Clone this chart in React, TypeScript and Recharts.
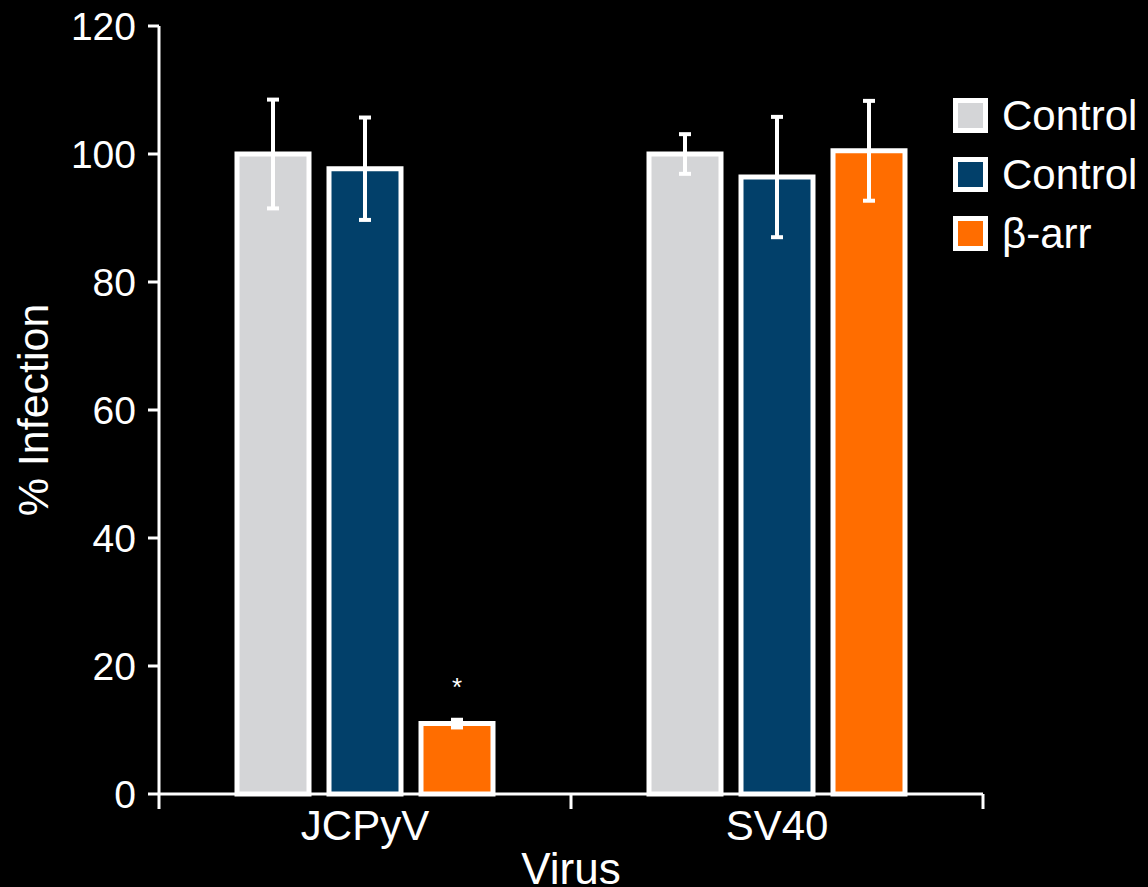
import { BarChart, Bar, XAxis, YAxis, ErrorBar, Legend, LabelList } from "recharts";

const categories = ["JCPyV", "SV40"];
const controlA = [100, 100];
const controlAErr = [8.5, 3.1];
const controlB = [97.7, 96.4];
const controlBErr = [8, 9.4];
const betaArr = [11, 100.5];
const betaArrErr = [0.6, 7.8];
const significance = ["*", ""];
const yTicks = [0, 20, 40, 60, 80, 100, 120];

const FONT = '"Liberation Sans", Arial, sans-serif';
const WHITE = "#ffffff";

const W = 1148;
const H = 887;
const Y_AXIS_W = 159;
const RIGHT = 165;
const BAND = (W - Y_AXIS_W - RIGHT) / categories.length;

const data = categories.map((virus, i) => ({
  virus,
  controlA: controlA[i],
  controlAErr: controlAErr[i],
  controlB: controlB[i],
  controlBErr: controlBErr[i],
  betaArr: betaArr[i],
  betaArrErr: betaArrErr[i],
  sig: significance[i],
}));

// label in the middle, tick marks on the category boundaries
function CategoryTick(props: any) {
  const { x, y, payload, index } = props;
  const half = BAND / 2;
  const isLast = index === categories.length - 1;
  return (
    <g>
      <line x1={x - half} x2={x - half} y1={y - 15} y2={y} stroke={WHITE} strokeWidth={3} />
      {isLast && <line x1={x + half} x2={x + half} y1={y - 15} y2={y} stroke={WHITE} strokeWidth={3} />}
      <text x={x} y={y} dy={31} textAnchor="middle" fill={WHITE} fontSize={42} fontFamily={FONT}>
        {payload.value}
      </text>
    </g>
  );
}

function LegendContent(props: any) {
  const { payload } = props;
  return (
    <div style={{ fontFamily: FONT }}>
      {(payload || []).map((item: any, i: number) => (
        <div key={i} style={{ display: "flex", alignItems: "center", height: 59 }}>
          <div
            style={{
              width: 35,
              height: 35,
              boxSizing: "border-box",
              border: "5px solid #fff",
              background: item.color,
            }}
          />
          <span style={{ color: WHITE, fontSize: 42, marginLeft: 14, lineHeight: 1 }}>{item.value}</span>
        </div>
      ))}
    </div>
  );
}

export default function App() {
  return (
    <div style={{ position: "absolute", top: 0, left: 0, width: W, height: H, background: "#000" }}>
      <BarChart
        width={W}
        height={H}
        data={data}
        margin={{ top: 26, right: RIGHT, left: 0, bottom: 0 }}
        barSize={72}
        barGap={20}
      >
        <XAxis
          dataKey="virus"
          height={93}
          tickSize={15}
          tickMargin={0}
          tickLine={false}
          tick={<CategoryTick />}
          interval={0}
          axisLine={{ stroke: WHITE, strokeWidth: 3 }}
          label={{
            value: "Virus",
            position: "insideBottom",
            offset: 3,
            fill: WHITE,
            fontSize: 44,
            fontFamily: FONT,
          }}
        />
        <YAxis
          domain={[0, 120]}
          ticks={yTicks}
          width={Y_AXIS_W}
          tickSize={11}
          tickMargin={12}
          axisLine={{ stroke: WHITE, strokeWidth: 3 }}
          tickLine={{ stroke: WHITE, strokeWidth: 3 }}
          tick={{ fill: WHITE, fontSize: 39, fontFamily: FONT }}
          label={{
            value: "% Infection",
            angle: -90,
            position: "insideLeft",
            offset: 33,
            fill: WHITE,
            fontSize: 43,
            fontFamily: FONT,
            style: { textAnchor: "middle" },
          }}
        />
        <Legend
          layout="vertical"
          align="center"
          verticalAlign="middle"
          wrapperStyle={{ top: 86, left: 953, width: "auto", height: "auto" }}
          content={<LegendContent />}
        />
        <Bar dataKey="controlA" name="Control" fill="#d4d5d7" stroke={WHITE} strokeWidth={5} isAnimationActive={false}>
          <ErrorBar dataKey="controlAErr" direction="y" width={6} stroke={WHITE} strokeWidth={4} />
        </Bar>
        <Bar dataKey="controlB" name="Control" fill="#02406a" stroke={WHITE} strokeWidth={5} isAnimationActive={false}>
          <ErrorBar dataKey="controlBErr" direction="y" width={6} stroke={WHITE} strokeWidth={4} />
        </Bar>
        <Bar dataKey="betaArr" name="β-arr" fill="#ff6d00" stroke={WHITE} strokeWidth={5} isAnimationActive={false}>
          <ErrorBar dataKey="betaArrErr" direction="y" width={6} stroke={WHITE} strokeWidth={4} />
          <LabelList dataKey="sig" position="top" offset={28} fill={WHITE} fontSize={26} fontFamily={FONT} />
        </Bar>
      </BarChart>
    </div>
  );
}
